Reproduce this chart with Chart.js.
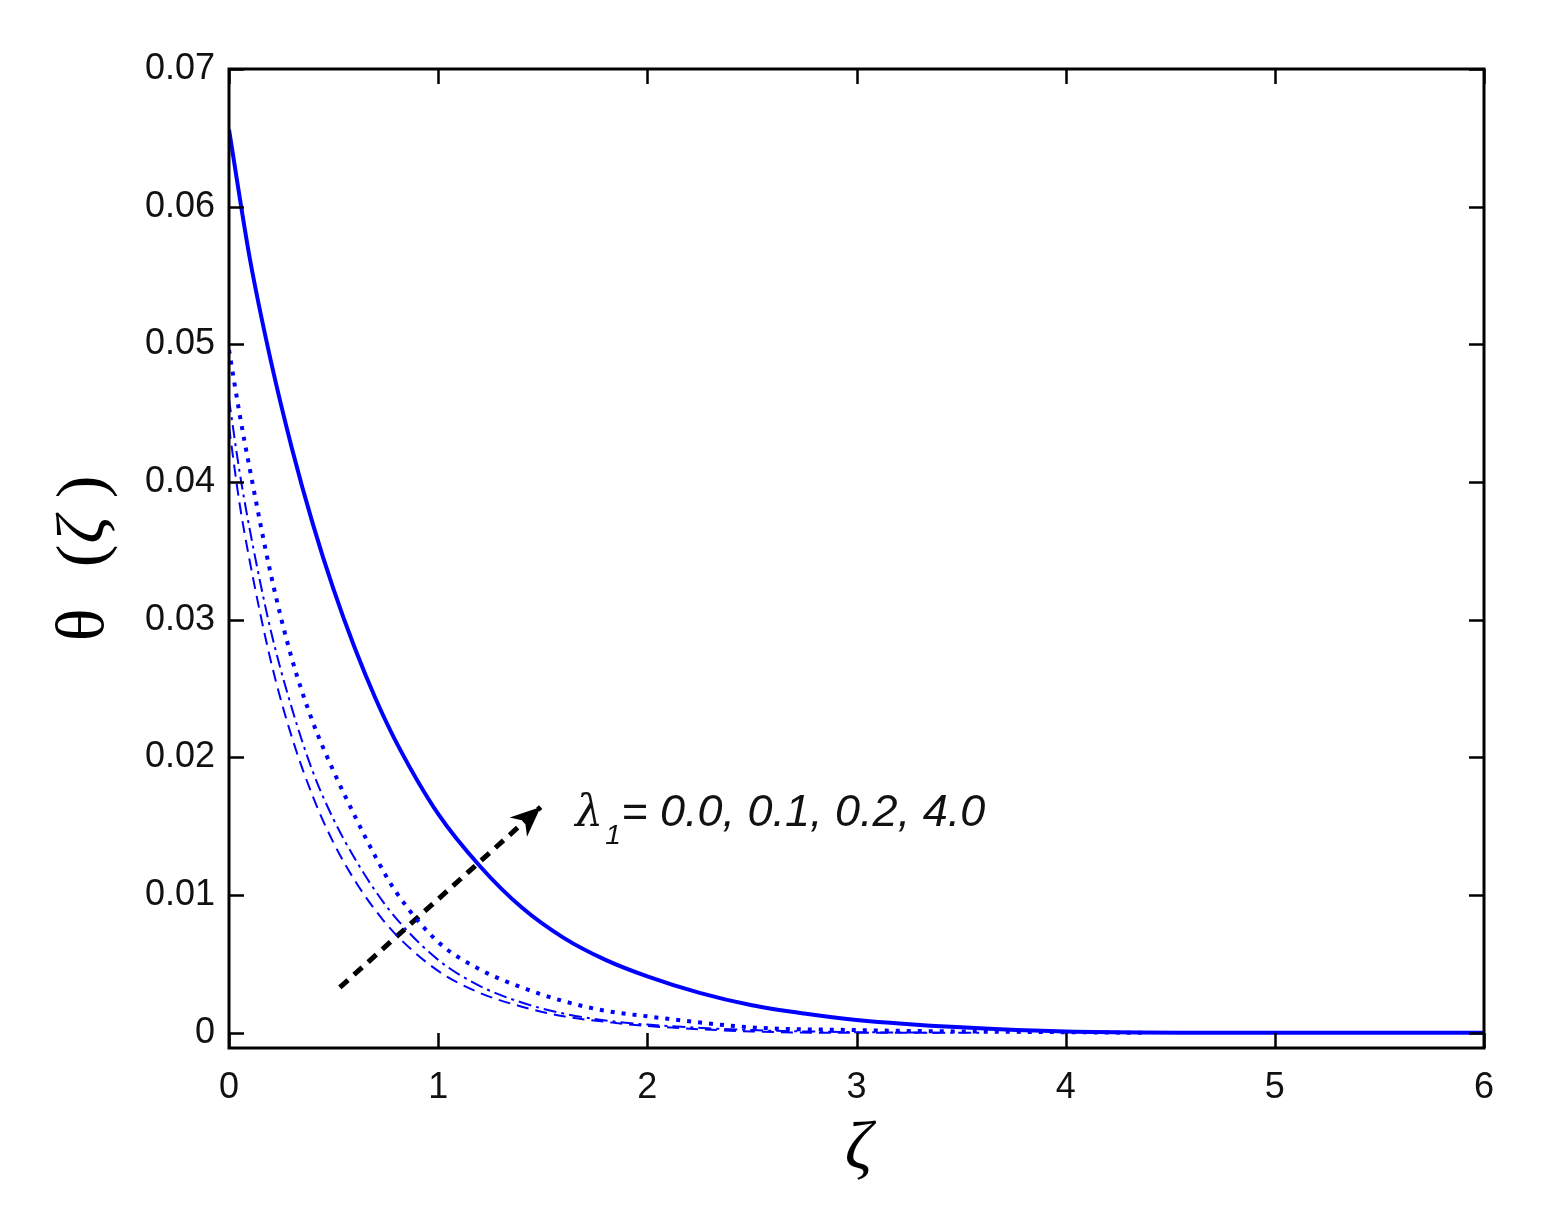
<!DOCTYPE html>
<html>
<head>
<meta charset="utf-8">
<script src="https://cdn.jsdelivr.net/npm/chart.js@4.4.0/dist/chart.umd.min.js"></script>
<style>
  html, body { margin: 0; padding: 0; background: #fff; }
  #wrap { width: 1542px; height: 1215px; position: relative; }
</style>
</head>
<body>
<div id="wrap"><canvas id="chart"></canvas></div>
<script>
// ---------------------------------------------------------------
// DATA
// ---------------------------------------------------------------

// lambda_1 = 4.0 (solid)
const zetaSolid  = [0, 0.1, 0.2, 0.3, 0.4, 0.5, 0.6, 0.7, 0.8, 1.0, 1.2, 1.4, 1.6, 1.8, 2.0, 2.25, 2.5, 2.75, 3.0, 3.5, 4.0, 5.0, 6.0];
const thetaSolid = [0.0656, 0.0562, 0.0488, 0.0425, 0.0370, 0.0322, 0.0280, 0.0243, 0.0211, 0.0159, 0.0121, 0.0091, 0.0069, 0.0053, 0.0041, 0.0029, 0.0020, 0.0014, 0.00094, 0.0004, 0.0001, 0, 0];

// lambda_1 = 0.2 (dotted)
const zetaDot  = [0, 0.05, 0.1, 0.2, 0.3, 0.4, 0.5, 0.6, 0.7, 0.8, 1.0, 1.2, 1.4, 1.6, 1.8, 2.0, 2.5, 3.0, 3.5, 4.0, 4.37];
const thetaDot = [0.0496, 0.0450, 0.0409, 0.0333, 0.0272, 0.0226, 0.0190, 0.0158, 0.0128, 0.0102, 0.0066, 0.0046, 0.0033, 0.0023, 0.0016, 0.0012, 0.0004, 0.0002, 0.0001, 0.00005, 0];

// lambda_1 = 0.1 (dash-dot)
const zetaDashDot  = [0, 0.05, 0.1, 0.2, 0.3, 0.4, 0.5, 0.6, 0.7, 0.8, 1.0, 1.2, 1.4, 1.6, 1.8, 2.0, 2.5, 3.0, 3.6];
const thetaDashDot = [0.0460, 0.0408, 0.0365, 0.0292, 0.0236, 0.0190, 0.0155, 0.0127, 0.0103, 0.0083, 0.0053, 0.0034, 0.0022, 0.0014, 0.0009, 0.0006, 0.0002, 0.00005, 0];

// lambda_1 = 0.0 (dashed)
const zetaDash  = [0, 0.05, 0.1, 0.2, 0.3, 0.4, 0.5, 0.6, 0.7, 0.8, 1.0, 1.2, 1.4, 1.6, 1.8, 2.0, 2.5, 3.0, 3.4];
const thetaDash = [0.0440, 0.0385, 0.0342, 0.0270, 0.0215, 0.0172, 0.0138, 0.0111, 0.0089, 0.0071, 0.0045, 0.0029, 0.0019, 0.0012, 0.0008, 0.0005, 0.0001, 0, 0];

// annotation arrow (data coordinates)
const arrowZeta  = [0.53, 1.49];
const arrowTheta = [0.0033, 0.0164];

const xTicks = [0, 1, 2, 3, 4, 5, 6];
const yTicks = [0, 0.01, 0.02, 0.03, 0.04, 0.05, 0.06, 0.07];

const lambdaLabel = '= 0.0, 0.1, 0.2, 4.0';

// ---------------------------------------------------------------
// HELPERS
// ---------------------------------------------------------------

const toPoints = (xs, ys) => xs.map((x, i) => ({ x, y: ys[i] }));

const BLUE = '#0000ff';

// box, inward ticks on all sides, axis titles, arrowhead, label
const decorPlugin = {
  id: 'decor',
  afterDatasetsDraw(chart) {
    const { ctx, chartArea: a, scales } = chart;
    const xs = scales.x, ys = scales.y;
    ctx.save();

    // inward ticks
    ctx.strokeStyle = '#000';
    ctx.lineWidth = 2.5;
    const tl = 15;
    ctx.beginPath();
    xTicks.forEach((v) => {
      const px = Math.round(xs.getPixelForValue(v)) + 0.5;
      ctx.moveTo(px, a.bottom); ctx.lineTo(px, a.bottom - tl);
      ctx.moveTo(px, a.top); ctx.lineTo(px, a.top + tl);
    });
    yTicks.forEach((v) => {
      const py = Math.round(ys.getPixelForValue(v)) + 0.5;
      ctx.moveTo(a.left, py); ctx.lineTo(a.left + tl, py);
      ctx.moveTo(a.right, py); ctx.lineTo(a.right - tl, py);
    });
    ctx.stroke();

    // box
    ctx.lineWidth = 3;
    ctx.strokeRect(a.left, a.top, a.right - a.left, a.bottom - a.top);

    // arrowhead at end of annotation arrow
    const x0 = xs.getPixelForValue(arrowZeta[0]), y0 = ys.getPixelForValue(arrowTheta[0]);
    const x1 = xs.getPixelForValue(arrowZeta[1]), y1 = ys.getPixelForValue(arrowTheta[1]);
    const ang = Math.atan2(y1 - y0, x1 - x0);
    const hl = 30, hw = 13;
    ctx.fillStyle = '#000';
    ctx.beginPath();
    ctx.moveTo(x1, y1);
    ctx.lineTo(x1 - hl * Math.cos(ang) + hw * Math.sin(ang), y1 - hl * Math.sin(ang) - hw * Math.cos(ang));
    ctx.lineTo(x1 - hl * 0.7 * Math.cos(ang), y1 - hl * 0.7 * Math.sin(ang));
    ctx.lineTo(x1 - hl * Math.cos(ang) - hw * Math.sin(ang), y1 - hl * Math.sin(ang) + hw * Math.cos(ang));
    ctx.closePath();
    ctx.fill();

    // lambda label
    const lx = xs.getPixelForValue(1.655);
    const ly = ys.getPixelForValue(0.0150);
    ctx.fillStyle = '#111';
    ctx.textBaseline = 'alphabetic';
    ctx.textAlign = 'left';
    ctx.font = 'italic 44px "DejaVu Serif"';
    ctx.fillText('λ', lx, ly);
    ctx.font = 'italic 28px "Liberation Sans"';
    ctx.fillText('1', lx + 30, ly + 18);
    ctx.font = 'italic 45px "Liberation Sans"';
    ctx.fillText(lambdaLabel, lx + 46, ly);

    // x axis title
    ctx.font = 'italic 68px "Liberation Serif"';
    ctx.textAlign = 'center';
    ctx.fillStyle = '#000';
    ctx.fillText('ζ', (a.left + a.right) / 2 + 2, 1168);

    // y axis title (rotated)
    const glyphs = [['θ', 625], ['(', 556], ['ζ', 530], [')', 487]];
    glyphs.forEach(([g, cy]) => {
      ctx.save();
      ctx.translate(103, cy);
      ctx.rotate(-Math.PI / 2);
      ctx.textAlign = 'center';
      ctx.font = g === 'ζ' ? 'italic 68px "Liberation Serif"' : '68px "Liberation Serif"';
      ctx.fillText(g, 0, 0);
      ctx.restore();
    });

    ctx.restore();
  }
};

// ---------------------------------------------------------------
// CHART
// ---------------------------------------------------------------

const ctx = document.getElementById('chart').getContext('2d');

new Chart(ctx, {
  type: 'line',
  data: {
    datasets: [
      {
        label: 'λ1 = 0.0',
        data: toPoints(zetaDash, thetaDash),
        borderColor: BLUE,
        borderWidth: 2,
        borderDash: [12, 7],
        cubicInterpolationMode: 'monotone',
        pointRadius: 0
      },
      {
        label: 'λ1 = 0.1',
        data: toPoints(zetaDashDot, thetaDashDot),
        borderColor: BLUE,
        borderWidth: 2,
        borderDash: [13, 5, 3, 5],
        cubicInterpolationMode: 'monotone',
        pointRadius: 0
      },
      {
        label: 'λ1 = 0.2',
        data: toPoints(zetaDot, thetaDot),
        borderColor: BLUE,
        borderWidth: 4,
        borderDash: [4, 7],
        borderCapStyle: 'butt',
        cubicInterpolationMode: 'monotone',
        pointRadius: 0
      },
      {
        label: 'λ1 = 4.0',
        data: toPoints(zetaSolid, thetaSolid),
        borderColor: BLUE,
        borderWidth: 4,
        cubicInterpolationMode: 'monotone',
        pointRadius: 0
      },
      {
        label: 'arrow',
        data: toPoints(arrowZeta, arrowTheta),
        borderColor: '#000',
        borderWidth: 5,
        borderDash: [11, 8],
        pointRadius: 0,
        tension: 0
      }
    ]
  },
  options: {
    responsive: true,
    maintainAspectRatio: false,
    animation: false,
    layout: { padding: { left: 0, top: 69, right: 58, bottom: 0 } },
    plugins: { legend: { display: false }, tooltip: { enabled: false } },
    scales: {
      x: {
        type: 'linear',
        min: 0,
        max: 6,
        afterFit: (s) => { s.height = 167; },
        afterBuildTicks: (s) => { s.ticks = xTicks.map((value) => ({ value })); },
        grid: { display: false, drawTicks: false },
        border: { display: false },
        ticks: {
          padding: 18,
          color: '#111',
          maxRotation: 0,
          font: { family: '"Liberation Sans"', size: 36 },
          callback: (v) => String(v)
        }
      },
      y: {
        type: 'linear',
        min: -0.0011,
        max: 0.07,
        afterFit: (s) => { s.width = 229; },
        afterBuildTicks: (s) => { s.ticks = yTicks.map((value) => ({ value })); },
        grid: { display: false, drawTicks: false },
        border: { display: false },
        ticks: {
          padding: 14,
          color: '#111',
          font: { family: '"Liberation Sans"', size: 36 },
          callback: (v) => (v === 0 ? '0' : v.toFixed(2))
        }
      }
    }
  },
  plugins: [decorPlugin]
});
</script>
</body>
</html>
